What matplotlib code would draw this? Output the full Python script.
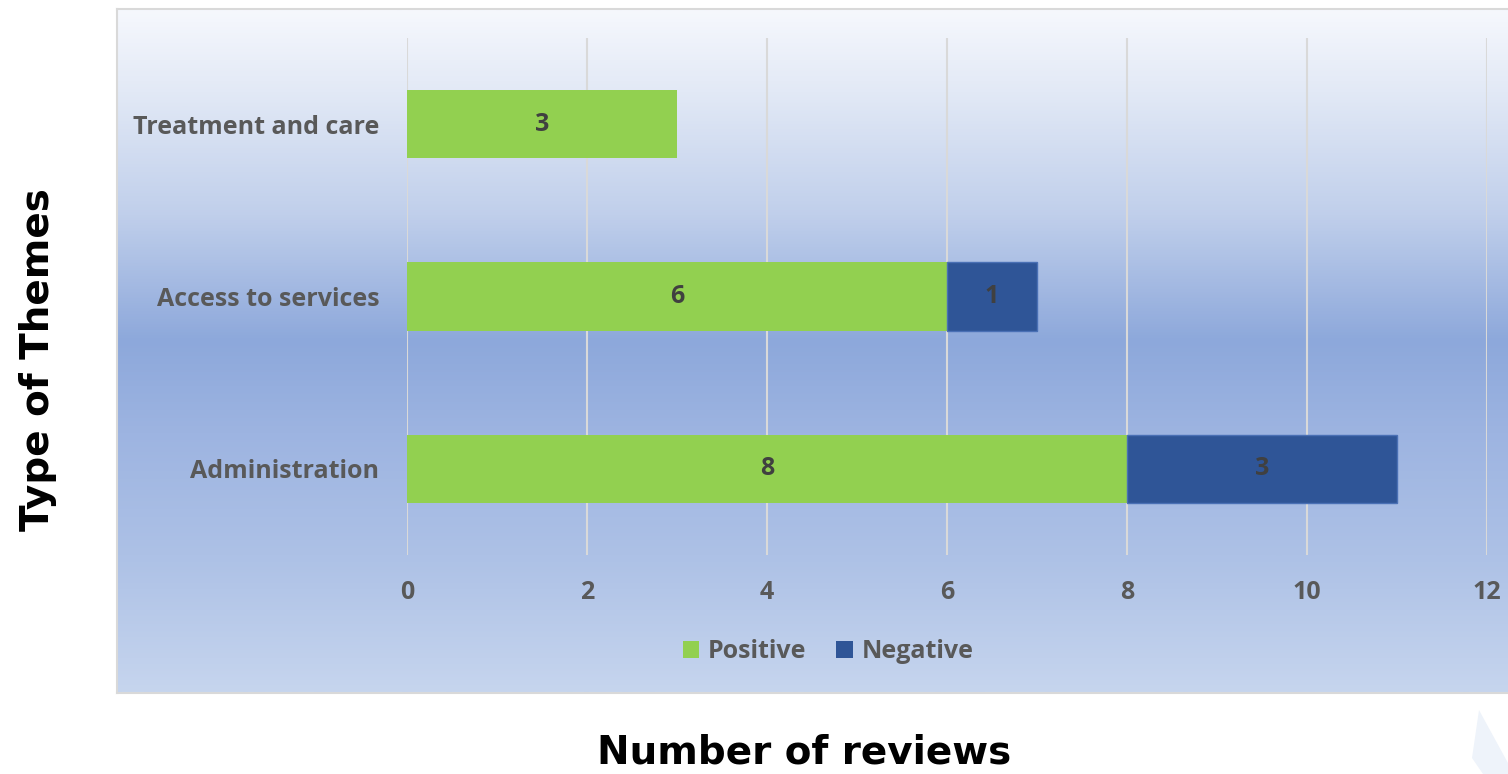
import numpy as np
import matplotlib
matplotlib.use("Agg")
import matplotlib.pyplot as plt
from matplotlib.patches import Patch, Polygon
from matplotlib.colors import LinearSegmentedColormap

categories = ["Administration", "Access to services", "Treatment and care"]
positive = [8, 6, 3]
negative = [3, 1, 0]
x_ticks = [0, 2, 4, 6, 8, 10, 12]

W, H = 1508, 774
fig = plt.figure(figsize=(W / 100, H / 100), dpi=100)
fig.patch.set_facecolor("white")

# gradient background panel
bg = fig.add_axes([117 / W, 1 - 693 / H, 1 - 117 / W + 0.01, (693 - 9) / H], zorder=0)
stops = [
    (0.00, (246, 248, 253)),
    (0.12, (226, 233, 246)),
    (0.30, (192, 207, 235)),
    (0.485, (141, 168, 219)),
    (0.62, (157, 180, 225)),
    (0.80, (173, 193, 230)),
    (1.00, (198, 213, 238)),
]
cmap = LinearSegmentedColormap.from_list(
    "bg", [(p, tuple(c / 255 for c in rgb)) for p, rgb in stops])
grad = np.linspace(0, 1, 512).reshape(-1, 1)
bg.imshow(grad, cmap=cmap, aspect="auto", extent=[0, 1, 0, 1], origin="upper")
bg.set_xticks([]); bg.set_yticks([])
for s in bg.spines.values():
    s.set_color("#D9D9D9"); s.set_linewidth(1.5)

# decorative shape bottom right
fig.patches.append(Polygon(
    [(1479 / W, 1 - 710 / H), (1508 / W, 1 - 763 / H), (1508 / W, 0),
     (1483 / W, 0), (1472 / W, 1 - 758 / H)],
    closed=True, transform=fig.transFigure, facecolor="#EEF3FA",
    edgecolor="none", zorder=0))

ax = fig.add_axes([407 / W, 1 - 555 / H, (1487 - 407) / W, (555 - 38) / H], zorder=1)
ax.patch.set_alpha(0)

green = "#92D050"
blue = "#2F5597"
font = "Open Sans"
txtcol = "#595959"
fs = 18
y = np.arange(len(categories))
h = 0.395
ax.barh(y, positive, height=h, color=green, zorder=3)
for i in range(len(categories)):
    if negative[i] > 0:
        ax.barh(y[i], negative[i], left=positive[i], height=h, color=blue,
                edgecolor="#4A70B5", linewidth=1, zorder=3)

for i in range(len(categories)):
    ax.text(positive[i] / 2, y[i], str(positive[i]), ha="center", va="center",
            fontsize=fs, fontweight="bold", color="#404040", family=font, zorder=4)
    if negative[i] > 0:
        ax.text(positive[i] + negative[i] / 2, y[i], str(negative[i]), ha="center",
                va="center", fontsize=fs, fontweight="bold", color="#404040",
                family=font, zorder=4)

ax.set_xlim(0, 12)
ax.set_ylim(-0.5, 2.5)
ax.set_xticks(x_ticks)
ax.set_xticklabels([str(t) for t in x_ticks])
ax.set_yticks(y)
ax.set_yticklabels(categories)
ax.grid(axis="x", color="#D9D9D9", linewidth=1.5, zorder=1)
ax.set_axisbelow(True)
for s in ax.spines.values():
    s.set_visible(False)
ax.tick_params(axis="both", length=0, labelsize=fs, labelcolor=txtcol)
ax.tick_params(axis="y", pad=20)
ax.tick_params(axis="x", pad=18)
for lab in ax.get_xticklabels() + ax.get_yticklabels():
    lab.set_fontweight("bold"); lab.set_family(font)

handles = [Patch(facecolor=green, label="Positive"), Patch(facecolor=blue, label="Negative")]
fig.legend(handles=handles, loc="center", bbox_to_anchor=(828 / W, 1 - 652 / H),
           ncol=2, frameon=False, handlelength=0.65, handleheight=0.65,
           handletextpad=0.35, columnspacing=1.2,
           prop={"family": font, "weight": "bold", "size": fs}, labelcolor=txtcol)

fig.text(38 / W, 1 - 360 / H, "Type of Themes", rotation=90, ha="center", va="center",
         fontsize=28, fontweight="bold", color="black", family="DejaVu Sans")
fig.text(804 / W, 1 - 752 / H, "Number of reviews", ha="center", va="center",
         fontsize=28, fontweight="bold", color="black", family="DejaVu Sans")

fig.savefig("out.png", dpi=100, facecolor="white")
